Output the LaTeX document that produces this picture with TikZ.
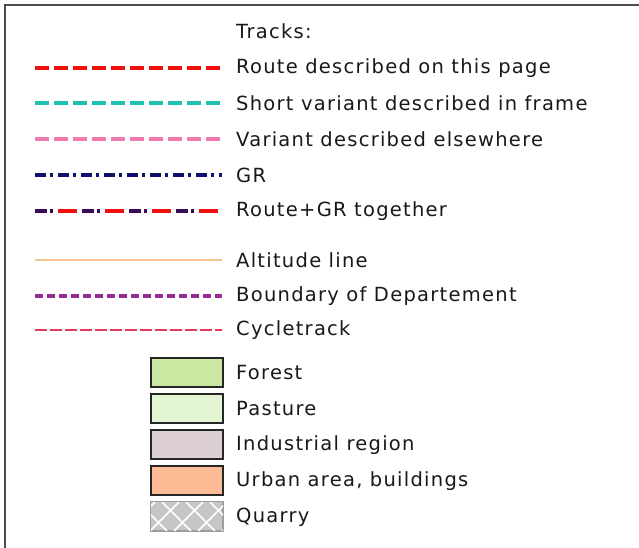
\documentclass[tikz,border=0pt]{standalone}
\usepackage{fontspec}
\setmainfont{DejaVu Sans}[LetterSpace=6.5]
\usetikzlibrary{calc}
\begin{document}
\begin{tikzpicture}[x=1pt,y=1pt,
  lbl/.style={anchor=west,inner sep=0pt,font=\fontsize{19.5}{22}\selectfont,text=black!90},
  swatch/.style={draw=black!85,line width=1.6pt,minimum width=72pt,minimum height=29pt,inner sep=0pt,anchor=north west},
]
\definecolor{rred}{HTML}{F01010}
\definecolor{rcyan}{HTML}{20C0B0}
\definecolor{rpink}{HTML}{F07AB0}
\definecolor{rgr}{HTML}{10106E}
\definecolor{rpurp}{HTML}{3A0A55}
\definecolor{ralt}{HTML}{F5C392}
\definecolor{rbnd}{HTML}{9A2C9A}
\definecolor{rcyc}{HTML}{E23A55}
\definecolor{cforest}{HTML}{CBE8A2}
\definecolor{cpast}{HTML}{E3F4D2}
\definecolor{cind}{HTML}{DCD0D6}
\definecolor{curb}{HTML}{FDBB95}
\definecolor{cquar}{HTML}{C6C6C6}
\useasboundingbox (0,0) rectangle (639,-548);
\fill[white] (0,0) rectangle (639,-548);
\draw[black!70,line width=1.5pt] (5,-548) -- (5,-5) -- (639,-5);
% line end coordinates
\foreach \n/\y in {a/68,b/103,c/139,d/175,e/211,f/260,g/296,h/330}{
  \coordinate (\n1) at (35,-\y);
  \coordinate (\n2) at (222,-\y);
}
\node[lbl] (title) at (236,-31) {Tracks:};
\draw[rred,line width=4.6pt,dash pattern=on 14pt off 5pt] (a1) -- (a2);
\node[lbl] (ta) at (236,-68) {Route described on this page};
\draw[rcyan,line width=4.6pt,dash pattern=on 14pt off 5pt] (b1) -- (b2);
\node[lbl] (tb) at (236,-103) {Short variant described in frame};
\draw[rpink,line width=4.6pt,dash pattern=on 14pt off 5pt] (c1) -- (c2);
\node[lbl] (tc) at (236,-139) {Variant described elsewhere};
\draw[rgr,line width=4pt,dash pattern=on 11pt off 4pt on 3pt off 5pt] (d1) -- (d2);
\node[lbl] (td) at (236,-175) {GR};
\draw[rpurp,line width=4pt,dash pattern=on 12pt off 3pt on 3pt off 29pt] (e1) -- (e2);
\draw[rred,line width=4pt,dash pattern=on 0pt off 23pt on 19pt off 5pt] (e1) -- (e2);
\node[lbl] (te) at (236,-211) {Route+GR together};
\draw[ralt,line width=1.4pt] (f1) -- (f2);
\node[lbl] (tf) at (236,-260) {Altitude line};
\draw[rbnd,line width=3.2pt,dash pattern=on 8pt off 4pt] (g1) -- (g2);
\node[lbl] (tg) at (236,-296) {Boundary of Departement};
\draw[rcyc,line width=1.8pt,dash pattern=on 12pt off 3pt] (h1) -- (h2);
\node[lbl] (th) at (236,-330) {Cycletrack};
% swatches
\node[swatch,fill=cforest] (sf) at (150,-357) {};
\node[lbl] (tsf) at (236,-373) {Forest};
\node[swatch,fill=cpast] (sp) at (150,-393) {};
\node[lbl] (tsp) at (236,-409) {Pasture};
\node[swatch,fill=cind] (si) at (150,-429) {};
\node[lbl] (tsi) at (236,-445) {Industrial region};
\node[swatch,fill=curb] (su) at (150,-465) {};
\node[lbl] (tsu) at (236,-481) {Urban area, buildings};
\node[swatch,draw=cquar!80!black,line width=1pt,fill=cquar] (sq) at (150,-501) {};
\begin{scope}
  \clip (sq.south west) rectangle (sq.north east);
  \foreach \k in {-2,...,5}{
    \draw[white,line width=1.6pt] ($(sq.south west)+(\k*24,0)$) -- ++(29,29);
    \draw[white,line width=1.6pt] ($(sq.south west)+(\k*24+12,29)$) -- ++(29,-29);
  }
\end{scope}
\draw[cquar!80!black,line width=1pt] (sq.south west) rectangle (sq.north east);
\node[lbl] (tsq) at (236,-517) {Quarry};
\end{tikzpicture}
\end{document}
